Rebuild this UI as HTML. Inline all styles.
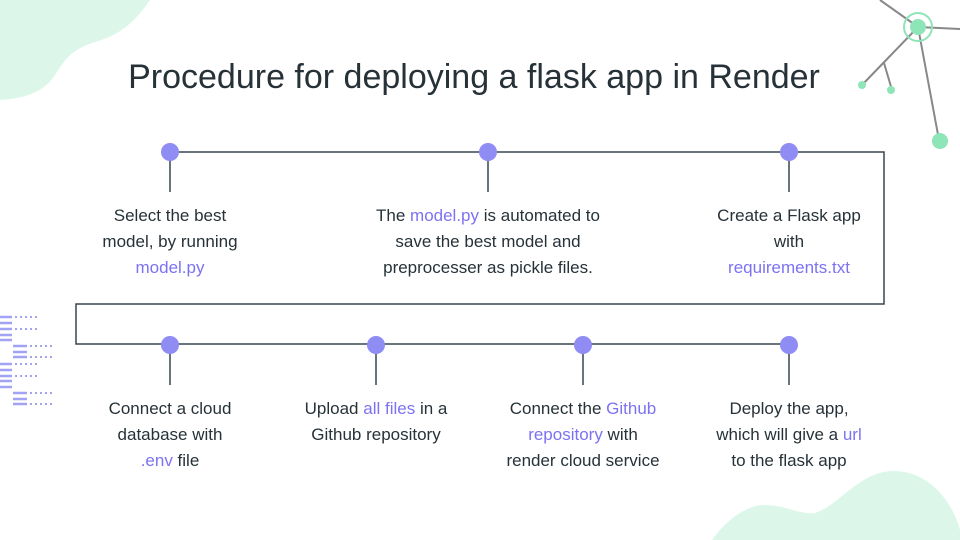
<!DOCTYPE html>
<html><head><meta charset="utf-8"><style>
body{margin:0;width:960px;height:540px;overflow:hidden;background:#fff;font-family:"Liberation Sans","DejaVu Sans",sans-serif;position:relative}
.t{position:absolute;text-align:center;font-size:17px;line-height:26px;color:#263238;width:220px}
.h{color:#7d72f2}
h1{position:absolute;margin:0;top:58px;left:0;width:948px;text-align:center;font-weight:normal;font-size:34px;color:#263238;letter-spacing:0px}
</style></head><body>
<svg width="960" height="540" style="position:absolute;left:0;top:0">
<path d="M0,0 L150,0 C135,22 120,35 95,42 C70,50 65,60 55,75 C45,90 30,98 0,100 Z" fill="#dcf7ea"/>
<path d="M712,540 C730,515 750,505 765,505 C785,505 800,515 815,513 C840,505 860,470 895,471 C935,472 955,510 960,530 L960,540 Z" fill="#dcf7ea"/>
<g stroke="#888" stroke-width="2" fill="none">
<line x1="880" y1="0" x2="918" y2="27"/><line x1="918" y1="27" x2="960" y2="29"/>
<line x1="918" y1="27" x2="862" y2="85"/><line x1="884" y1="63" x2="892" y2="90"/>
<line x1="918" y1="27" x2="939" y2="140"/>
</g>
<circle cx="918" cy="27" r="14" fill="none" stroke="#8ee5b8" stroke-width="2"/>
<circle cx="918" cy="27" r="8" fill="#8ee5b8"/>
<circle cx="862" cy="85" r="4" fill="#8ee5b8"/>
<circle cx="891" cy="90" r="4" fill="#8ee5b8"/>
<circle cx="940" cy="141" r="8" fill="#8ee5b8"/>
<g stroke="#37474f" stroke-width="1.5" fill="none">
<polyline points="170,152 884,152 884,304 76,304 76,344 789,344"/>
<line x1="170" y1="152" x2="170" y2="192"/><line x1="488" y1="152" x2="488" y2="192"/><line x1="789" y1="152" x2="789" y2="192"/>
<line x1="170" y1="344" x2="170" y2="385"/><line x1="376" y1="344" x2="376" y2="385"/><line x1="583" y1="344" x2="583" y2="385"/><line x1="789" y1="344" x2="789" y2="385"/>
</g>
<g fill="#8f8cf3">
<circle cx="170" cy="152" r="9"/><circle cx="488" cy="152" r="9"/><circle cx="789" cy="152" r="9"/>
<circle cx="170" cy="345" r="9"/><circle cx="376" cy="345" r="9"/><circle cx="583" cy="345" r="9"/><circle cx="789" cy="345" r="9"/>
</g>
<g stroke="#a3a3f5" stroke-width="2.5">
<line x1="0" y1="317" x2="12" y2="317"/><line x1="0" y1="323" x2="12" y2="323"/><line x1="0" y1="329" x2="12" y2="329"/><line x1="0" y1="335" x2="12" y2="335"/><line x1="0" y1="340" x2="12" y2="340"/>
<line x1="13" y1="346" x2="27" y2="346"/><line x1="13" y1="352" x2="27" y2="352"/><line x1="13" y1="357" x2="27" y2="357"/>
<line x1="0" y1="364" x2="12" y2="364"/><line x1="0" y1="370" x2="12" y2="370"/><line x1="0" y1="376" x2="12" y2="376"/><line x1="0" y1="381" x2="12" y2="381"/><line x1="0" y1="387" x2="12" y2="387"/>
<line x1="13" y1="393" x2="27" y2="393"/><line x1="13" y1="399" x2="27" y2="399"/><line x1="13" y1="404" x2="27" y2="404"/>
</g>
<g stroke="#a3a3f5" stroke-width="2" stroke-dasharray="2,3">
<line x1="15" y1="317" x2="40" y2="317"/><line x1="15" y1="329" x2="40" y2="329"/>
<line x1="30" y1="346" x2="55" y2="346"/><line x1="30" y1="357" x2="55" y2="357"/>
<line x1="15" y1="364" x2="40" y2="364"/><line x1="15" y1="376" x2="40" y2="376"/>
<line x1="30" y1="393" x2="55" y2="393"/><line x1="30" y1="404" x2="55" y2="404"/>
</g>
</svg>
<h1>Procedure for deploying a flask app in Render</h1>
<div class="t" style="left:60px;top:203px">Select the best<br>model, by running<br><span class="h">model.py</span></div>
<div class="t" style="left:348px;top:203px;width:280px">The <span class="h">model.py</span> is automated to<br>save the best model and<br>preprocesser as pickle files.</div>
<div class="t" style="left:679px;top:203px">Create a Flask app<br>with<br><span class="h">requirements.txt</span></div>
<div class="t" style="left:60px;top:396px">Connect a cloud<br>database with<br><span class="h">.env</span> file</div>
<div class="t" style="left:266px;top:396px">Upload <span class="h">all files</span> in a<br>Github repository</div>
<div class="t" style="left:473px;top:396px">Connect the <span class="h">Github</span><br><span class="h">repository</span> with<br>render cloud service</div>
<div class="t" style="left:679px;top:396px">Deploy the app,<br>which will give a <span class="h">url</span><br>to the flask app</div>
</body></html>
